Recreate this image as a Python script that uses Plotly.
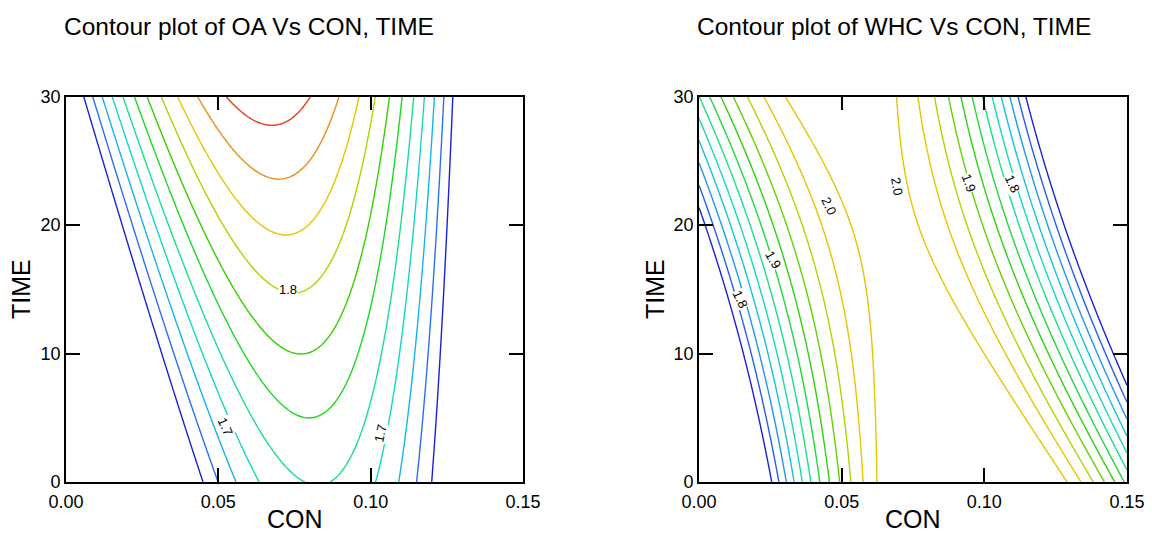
import numpy as np
import plotly.graph_objects as go

# ---------------- data ----------------
# Fitted response-surface coefficients: z = b0 + b1*CON + b2*TIME + b11*CON^2 + b22*TIME^2 + b12*CON*TIME
coef_OA = [1.34964, 9.4875, 0.008802, -57.5, 4.32e-6, -0.061755]
coef_WHC = [1.420589, 13.7808, 0.014126, -72.0, 5.8e-6, -0.220752]

con_range = [0.0, 0.15]
time_range = [0.0, 30.0]

levels_OA = [1.66, 1.86, 0.02]      # start, end, step
levels_WHC = [1.725, 2.0, 0.025]

x_tickvals = [0.0, 0.05, 0.10, 0.15]
x_ticktext = ["0.00", "0.05", "0.10", "0.15"]
y_tickvals = [0, 10, 20, 30]
y_ticktext = ["0", "10", "20", "30"]

titles = ["Contour plot of OA Vs CON, TIME", "Contour plot of WHC Vs CON, TIME"]

# contour labels: (text, CON, TIME, angle)
labels_OA = [("1.8", 0.0729, 15.0, 0), ("1.7", 0.0522, 4.3, 65), ("1.7", 0.1031, 3.8, -78)]
labels_WHC = [("2.0", 0.0454, 21.5, 65), ("1.9", 0.0259, 17.3, 60), ("1.8", 0.0145, 14.2, 65),
              ("2.0", 0.0694, 23.0, 80), ("1.9", 0.0945, 23.3, 70), ("1.8", 0.1097, 23.2, 65)]

# ---------------- grid ----------------
con = np.linspace(con_range[0], con_range[1], 151)
tim = np.linspace(time_range[0], time_range[1], 121)
X, Y = np.meshgrid(con, tim)


def surface(c):
    b0, b1, b2, b11, b22, b12 = c
    return b0 + b1 * X + b2 * Y + b11 * X ** 2 + b22 * Y ** 2 + b12 * X * Y


jet_colors = ["#1a22d6", "#2a6ef2", "#14b4f0", "#10d8c6", "#18e08a", "#1ed820",
              "#34d000", "#a6d800", "#e8c400", "#f08a18", "#e84018"]
jet = [[i / 10, c] for i, c in enumerate(jet_colors)]
# WHC levels stop at yellow (2.0 is the top drawn level)
jet_whc = [[i / 8, c] for i, c in enumerate(jet_colors[:9])]

W, H = 1152, 533
fig = go.Figure()

fig.add_trace(go.Contour(
    x=con, y=tim, z=surface(coef_OA), xaxis="x", yaxis="y",
    contours=dict(coloring="lines", start=levels_OA[0], end=levels_OA[1] + 1e-6,
                  size=levels_OA[2], showlabels=False),
    autocontour=False, colorscale=jet, zmin=levels_OA[0], zmax=levels_OA[1],
    showscale=False, line=dict(width=1.4), hoverinfo="skip"))

fig.add_trace(go.Contour(
    x=con, y=tim, z=surface(coef_WHC), xaxis="x2", yaxis="y2",
    contours=dict(coloring="lines", start=levels_WHC[0], end=levels_WHC[1] + 1e-6,
                  size=levels_WHC[2], showlabels=False),
    autocontour=False, colorscale=jet_whc, zmin=levels_WHC[0], zmax=levels_WHC[1],
    showscale=False, line=dict(width=1.4), hoverinfo="skip"))

font_family = "Liberation Sans, Arial, sans-serif"
axis_common = dict(showline=True, linecolor="black", linewidth=1.6, mirror="ticks",
                   ticks="inside", ticklen=14, tickwidth=1.5, tickcolor="black",
                   showgrid=False, zeroline=False, automargin=False,
                   tickfont=dict(family=font_family, size=18, color="black"))

left_dom = [66 / W, 523 / W]
right_dom = [699 / W, 1127 / W]
y_dom = [1 - 482 / H, 1 - 96.5 / H]

fig.update_layout(
    width=W, height=H, margin=dict(l=0, r=0, t=0, b=0, autoexpand=False),
    paper_bgcolor="white", plot_bgcolor="white", showlegend=False,
    xaxis=dict(domain=left_dom, range=con_range, tickvals=x_tickvals, ticktext=x_ticktext,
               anchor="y", ticklabelstandoff=3, **axis_common),
    yaxis=dict(domain=y_dom, range=time_range, tickvals=y_tickvals, ticktext=y_ticktext,
               anchor="x", **axis_common),
    xaxis2=dict(domain=right_dom, range=con_range, tickvals=x_tickvals, ticktext=x_ticktext,
                anchor="y2", ticklabelstandoff=3, **axis_common),
    yaxis2=dict(domain=y_dom, range=time_range, tickvals=y_tickvals, ticktext=y_ticktext,
                anchor="x2", **axis_common),
)

ann = []
def px(xp, yp):
    return xp / W, 1 - yp / H

# chart titles
for t, cx in zip(titles, [249, 894]):
    xx, yy = px(cx, 27)
    ann.append(dict(text=t, x=xx, y=yy, xref="paper", yref="paper", showarrow=False,
                    xanchor="center", yanchor="middle",
                    font=dict(family=font_family, size=24.5, color="black")))
# axis titles
for cx in [294.5, 913]:
    xx, yy = px(cx, 519)
    ann.append(dict(text="CON", x=xx, y=yy, xref="paper", yref="paper", showarrow=False,
                    xanchor="center", yanchor="middle",
                    font=dict(family=font_family, size=25, color="black")))
for cx in [21, 655]:
    xx, yy = px(cx, 289)
    ann.append(dict(text="TIME", x=xx, y=yy, xref="paper", yref="paper", showarrow=False,
                    textangle=-90, xanchor="center", yanchor="middle",
                    font=dict(family=font_family, size=25, color="black")))
# contour labels
for labs, xr, yr in [(labels_OA, "x", "y"), (labels_WHC, "x2", "y2")]:
    for t, cx, cy, ang in labs:
        ann.append(dict(text=t, x=cx, y=cy, xref=xr, yref=yr, showarrow=False,
                        textangle=ang, bgcolor="white", borderpad=0,
                        font=dict(family=font_family, size=13, color="black")))

fig.update_layout(annotations=ann)
fig.write_html("out.html", config={"displayModeBar": False},
               post_script="document.body.style.margin='0px';document.body.style.overflow='hidden';")
